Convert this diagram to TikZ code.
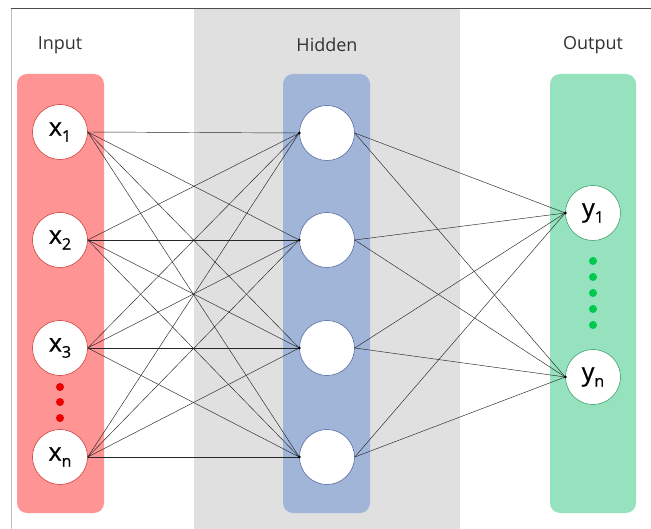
\documentclass[tikz,border=0pt]{standalone}
\usepackage{fontspec}
\setmainfont{Open Sans}
\newfontfamily\nodefont[FakeBold=0.7]{Open Sans}
\usetikzlibrary{calc}
\definecolor{inbox}{RGB}{255,148,148}
\definecolor{inedge}{RGB}{200,40,40}
\definecolor{hidbox}{RGB}{160,181,216}
\definecolor{hidedge}{RGB}{70,90,150}
\definecolor{outbox}{RGB}{150,226,190}
\definecolor{outedge}{RGB}{40,150,90}
\definecolor{band}{RGB}{224,224,224}
\definecolor{reddot}{RGB}{235,0,0}
\definecolor{greendot}{RGB}{0,200,80}
\definecolor{labeltext}{RGB}{50,50,50}
\newcommand{\nlab}[2]{#1\raisebox{-0.45ex}{\fontsize{16}{16}\selectfont #2}}
\tikzset{
  layerbox/.style={rounded corners=10pt},
  neuron/.style={circle, fill=white, minimum size=55pt, inner sep=0pt, line width=0.5pt,
     font=\nodefont\fontsize{25}{25}\selectfont},
  innode/.style={neuron, draw=inedge},
  hidnode/.style={neuron, draw=hidedge},
  outnode/.style={neuron, draw=outedge},
  title/.style={font=\fontsize{18}{18}\selectfont, text=labeltext},
  wire/.style={line width=0.45pt, black!85},
  tipdot/.style={circle, fill=black, inner sep=0pt, minimum size=3pt},
  reddotst/.style={circle, fill=reddot, inner sep=0pt, minimum size=8pt},
  greendotst/.style={circle, fill=greendot, inner sep=0pt, minimum size=8pt}
}
\begin{document}
\begin{tikzpicture}[x=1pt,y=-1pt]
\useasboundingbox (0,0) rectangle (651,529);
\fill[white] (0,0) rectangle (651,529);
% background band
\fill[band] (194,9) rectangle (460,529);
% frame
\draw[line width=1pt, black!70] (11,9) -- (651,9);
\draw[line width=1pt, black!25] (11,9) -- (11,529);
% layer boxes
\fill[inbox, layerbox] (17,74) rectangle (104,513);
\fill[hidbox, layerbox] (283,74) rectangle (370,513);
\fill[outbox, layerbox] (550,74) rectangle (636,513);
% titles
\node[title] (tin) at (60,45) {Input};
\node[title] (thid) at (327,45) {Hidden};
\node[title] (tout) at (593,45) {Output};
% input nodes
\node[innode] (x1) at (60,132) {\nlab{x}{1}};
\node[innode] (x2) at (60,240) {\nlab{x}{2}};
\node[innode] (x3) at (60,348) {\nlab{x}{3}};
\node[innode] (xn) at (60,457) {\nlab{x}{n}};
% hidden nodes
\node[hidnode] (h1) at (327,133) {};
\node[hidnode] (h2) at (327,240) {};
\node[hidnode] (h3) at (327,348) {};
\node[hidnode] (h4) at (327,457) {};
% output nodes
\node[outnode] (y1) at (593,213) {\nlab{y}{1}};
\node[outnode] (yn) at (593,377) {\nlab{y}{n}};
% dots
\foreach \i/\yy in {1/387,2/402,3/418} {\node[reddotst] (rd\i) at (60,\yy) {};}
\foreach \i/\yy in {1/261,2/277,3/293,4/309,5/325} {\node[greendotst] (gd\i) at (593,\yy) {};}
% wires
\foreach \a in {x1,x2,x3,xn} {
  \foreach \b in {h1,h2,h3,h4} {
    \draw[wire] (\a.east) -- (\b.west);
  }
}
\foreach \a in {h1,h2,h3,h4} {
  \foreach \b in {y1,yn} {
    \draw[wire] (\a.east) -- (\b.west);
  }
}
\foreach \b in {h1,h2,h3,h4,y1,yn} {\node[tipdot] (tip\b) at (\b.west) {};}
\end{tikzpicture}
\end{document}
